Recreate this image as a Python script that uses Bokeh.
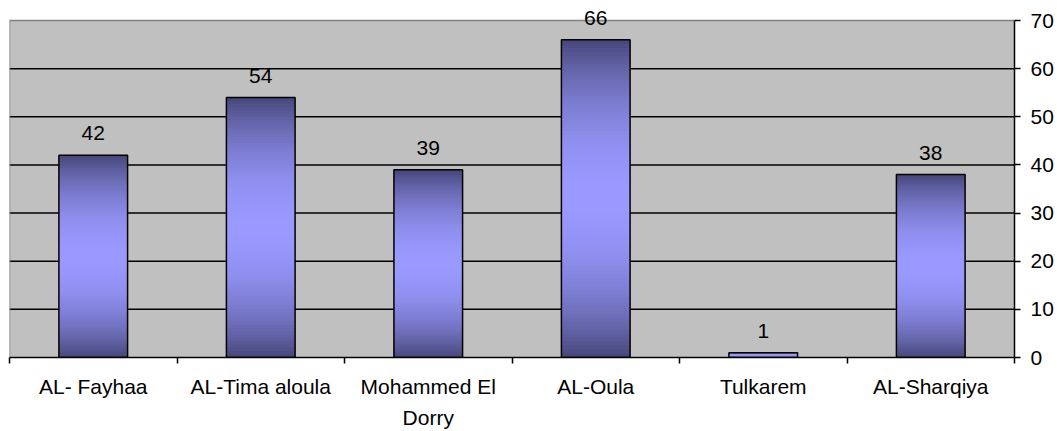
import numpy as np
from bokeh.plotting import figure
from bokeh.models import ColumnDataSource, Range1d, LinearAxis, FixedTicker
from bokeh.core.properties import value
from bokeh.embed import file_html
from bokeh.resources import INLINE

categories = ["AL- Fayhaa", "AL-Tima aloula", "Mohammed El\nDorry", "AL-Oula", "Tulkarem", "AL-Sharqiya"]
values = [42, 54, 39, 66, 1, 38]
y_ticks = [0, 10, 20, 30, 40, 50, 60, 70]

FONT = "Liberation Sans"
DARK = np.array([0x44, 0x44, 0x76])
LIGHT = np.array([0x99, 0x99, 0xFF])

n = len(categories)
centers = [i + 0.5 for i in range(n)]
bar_w = 0.41
ymax = y_ticks[-1]
# frame spans from y=2 px to y=357 px; the plotted area (0..70) ends at y=20 px
px_per_unit = (357 - 20) / ymax
y_top = ymax + (20 - 2) / px_per_unit

p = figure(width=1057, height=431, output_backend="svg", toolbar_location=None,
           x_range=Range1d(0, n), y_range=Range1d(0, y_top),
           x_axis_location=None, y_axis_location=None,
           min_border_left=9, min_border_top=2, min_border_right=43, min_border_bottom=74)
p.background_fill_color = "white"
p.border_fill_color = "white"
p.outline_line_color = None
p.xgrid.visible = False
p.ygrid.visible = False

# plot area background, grid lines, border
p.quad(left=0, right=n, bottom=0, top=ymax, fill_color="#C0C0C0", line_color=None)
gy = y_ticks[1:-1]
p.segment(x0=[0] * len(gy), x1=[n] * len(gy), y0=gy, y1=gy, line_color="black", line_width=1.5)
p.line(x=[0, 0, n], y=[0, ymax, ymax], line_color="#808080", line_width=1.5)

# gradient bars built from many thin, slightly overlapping slices
L, R, B, T, C = [], [], [], [], []
N = 80
for c, v in zip(centers, values):
    edges = np.linspace(0, v, N + 1)
    step = v / N
    for k in range(N):
        t = (k + 0.5) / N
        f = np.sin(np.pi * t) ** 0.8
        col = DARK + (LIGHT - DARK) * f
        L.append(c - bar_w / 2); R.append(c + bar_w / 2)
        B.append(edges[k]); T.append(min(edges[k + 1] + step * 0.8, v))
        C.append("#%02x%02x%02x" % tuple(int(round(x)) for x in col))

src = ColumnDataSource(dict(left=L, right=R, bottom=B, top=T, color=C))
p.quad(left="left", right="right", bottom="bottom", top="top", fill_color="color",
       line_color=None, source=src)
p.quad(left=[c - bar_w / 2 for c in centers], right=[c + bar_w / 2 for c in centers],
       bottom=0, top=values, fill_color=None, line_color="black", line_width=1.5)

# right axis
ya = LinearAxis(ticker=FixedTicker(ticks=y_ticks), bounds=(0, ymax))
ya.axis_line_color = "black"
ya.axis_line_width = 1.5
ya.major_tick_out = 6
ya.major_tick_in = 0
ya.major_tick_line_width = 1.5
ya.minor_tick_line_color = None
ya.major_label_standoff = 10
ya.major_label_text_align = "left"
ya.major_label_text_font = FONT
ya.major_label_text_font_size = "21px"
ya.major_label_text_color = "black"
p.add_layout(ya, "right")

# bottom axis: labels at centers, ticks at boundaries (minor)
xa = LinearAxis(ticker=FixedTicker(ticks=centers, minor_ticks=list(range(n + 1))))
xa.axis_line_color = "black"
xa.axis_line_width = 1.5
xa.major_tick_out = 0
xa.major_tick_in = 0
xa.minor_tick_out = 6
xa.minor_tick_in = 0
xa.minor_tick_line_color = "black"
xa.minor_tick_line_width = 1.5
xa.major_label_overrides = {c: lab for c, lab in zip(centers, categories)}
xa.major_label_standoff = 11
xa.major_label_text_font = FONT
xa.major_label_text_font_size = "21px"
xa.major_label_text_color = "black"
xa.major_label_text_line_height = 1.35
p.add_layout(xa, "below")

p.text(x=centers, y=values, text=[str(v) for v in values], text_align="center",
       text_baseline="alphabetic", y_offset=-22, text_font=value(FONT),
       text_font_size="21px", text_color="black")

open("out.html", "w").write(file_html(p, INLINE))
